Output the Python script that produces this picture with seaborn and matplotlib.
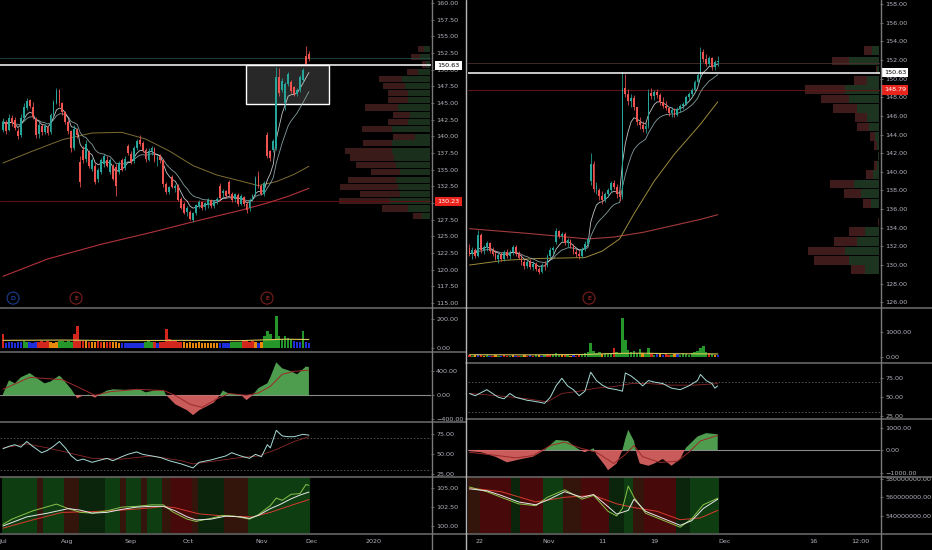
import numpy as np
import pandas as pd
import matplotlib
matplotlib.use("Agg")
import matplotlib.pyplot as plt
import matplotlib.transforms as mtransforms
from matplotlib.lines import Line2D
from matplotlib.patches import Rectangle
from matplotlib.ticker import FuncFormatter
import seaborn as sns

# ======================= DATA =======================
# ---- left chart: daily candles Jul 1 - Nov 29 (bar index 0..103) ----
L_open = [141.0,142.2,141.0,142.8,142.5,140.8,140.2,142.8,144.3,145.4,
          144.4,142.6,140.4,141.5,140.6,141.4,140.6,143.3,145.0,146.9,
          145.0,143.6,142.1,140.8,138.3,140.9,136.2,138.0,136.6,137.6,
          135.1,135.6,133.6,134.6,135.8,136.5,134.6,135.5,135.4,134.6,
          136.4,135.2,138.5,137.4,136.3,138.2,139.5,139.0,137.9,136.5,
          137.8,138.2,136.5,137.0,136.4,132.9,131.6,133.9,132.3,132.6,
          130.6,129.8,128.6,128.6,127.5,128.5,129.6,130.1,129.4,129.7,
          130.4,129.5,130.3,132.6,131.5,131.8,133.1,131.4,130.6,131.2,
          129.9,130.9,129.9,129.2,130.5,131.3,134.0,132.6,131.4,140.2,
          137.8,137.9,138.3,148.9,147.0,145.0,147.9,148.2,147.4,146.4,
          146.9,148.4,152.0,152.4]
L_high = [142.8,142.5,143.4,143.2,142.9,141.2,143.3,145.0,145.8,145.6,
          145.2,142.9,142.2,141.8,141.9,141.6,143.5,145.5,147.3,147.1,
          145.2,143.8,142.4,141.0,141.7,141.3,137.0,138.6,139.4,138.0,
          136.8,136.0,135.3,136.8,137.3,137.0,136.7,135.8,135.8,136.3,
          136.8,137.0,138.9,137.8,138.5,139.6,140.2,139.3,138.3,138.2,
          138.6,138.4,137.2,137.3,136.6,133.2,132.6,134.2,132.9,132.9,
          130.9,130.1,129.6,128.9,128.7,129.9,130.4,130.3,130.2,130.8,
          130.6,130.5,130.9,133.0,132.1,132.0,133.5,131.7,131.5,131.5,
          131.3,131.1,130.2,130.7,131.4,134.0,134.8,132.9,133.3,140.6,
          138.0,139.6,150.4,150.3,148.8,148.2,149.7,148.5,147.6,147.3,
          149.2,150.2,153.6,152.8]
L_low = [140.6,140.4,140.8,141.6,141.0,139.6,139.9,142.4,144.0,144.2,
         142.6,139.8,139.7,140.2,140.3,140.2,140.4,143.1,144.8,144.6,
         143.2,141.8,140.4,137.6,138.0,139.8,132.4,136.0,136.2,135.2,
         134.8,132.8,133.2,134.3,135.4,135.4,134.3,133.4,131.0,134.3,
         134.8,135.0,137.2,135.9,136.0,138.0,138.6,137.6,136.2,136.3,
         137.2,136.2,135.5,136.0,132.4,131.3,131.4,132.2,131.6,130.3,
         129.1,128.3,128.0,127.4,127.2,128.2,129.2,129.0,128.9,129.3,
         129.2,129.2,129.8,130.5,130.9,130.8,131.1,130.2,130.1,129.6,
         129.7,129.5,128.5,128.8,130.3,131.1,132.3,131.2,131.0,136.7,
         136.3,137.6,138.0,146.1,146.6,143.9,147.6,146.5,146.0,146.1,
         146.6,148.2,150.5,151.3]
L_close = [142.2,140.8,142.8,142.0,141.3,140.0,142.7,144.4,145.3,144.5,
           142.9,140.2,141.7,140.6,141.5,140.5,143.2,145.1,146.8,145.0,
           143.6,142.1,140.8,138.2,141.1,140.2,133.2,136.5,138.8,135.6,
           136.4,133.2,134.9,136.4,137.0,135.6,136.4,133.6,132.6,136.0,
           135.0,136.6,137.5,136.2,138.2,139.3,138.9,137.9,136.6,137.8,
           138.3,136.5,136.9,136.4,132.8,131.6,132.4,132.4,132.6,130.5,
           129.3,128.5,129.3,127.6,128.5,129.7,130.1,129.3,130.0,130.5,
           129.6,130.3,130.6,130.8,131.8,131.1,131.3,130.5,131.3,129.8,
           131.0,129.8,128.9,130.5,131.2,133.8,132.6,131.4,133.0,137.0,
           136.8,139.3,148.9,146.5,148.3,147.8,149.3,146.8,146.4,147.0,
           148.9,149.9,150.8,151.6]
L_vol = [100,35,40,38,36,42,38,45,40,38,36,40,42,45,38,44,40,36,42,48,
         44,40,46,42,100,150,55,50,45,40,42,38,44,40,42,38,40,42,38,36,
         32,34,30,33,35,31,34,32,40,44,42,38,36,40,42,130,60,48,44,42,
         40,38,36,40,34,36,38,35,33,36,34,32,35,34,36,32,35,40,38,42,
         40,44,46,42,45,40,36,38,80,115,95,60,225,80,65,82,70,60,45,42,
         40,120,40,36]
L_volcol = ("r" "bbbbbb" "gg" "bbb" "rrrr" "ooo" "ggggg" "rrrr" "oroor" "rorr"
            "ooo" "bbbbbbbb" "ggg" "rb" "rrrrrrrr" "oooooooooooo" "bbbb" "gggg"
            "rrrr" "obo" "gggggggggg" "bbb" "g" "bb")
L_vma_bar = [0, 20, 40, 60, 80, 95, 103]
L_vma = [52, 54, 50, 52, 50, 60, 58]
# moving averages (sparse readings)
L_ma50_bar = [0, 10, 20, 30, 40, 48, 56, 64, 72, 80, 86, 92, 98, 103]
L_ma50 = [136.0,137.8,139.5,140.5,140.6,139.6,137.8,135.6,134.2,133.3,132.6,133.2,134.3,135.5]
L_ma200_bar = [0, 15, 33, 50, 66, 80, 89, 96, 103]
L_ma200 = [119.0,121.6,123.8,125.6,127.4,128.9,130.0,131.0,132.2]
# volume profile
L_prof_price = [153.05,151.85,150.75,149.7,148.6,147.55,146.45,145.45,144.3,143.2,142.15,141.1,
                139.95,138.95,137.85,136.8,135.7,134.6,133.45,132.45,131.35,130.25,129.2,128.1]
L_prof_total = [11.7,19,8,22.7,50.7,47.3,41.7,42.3,65,36.7,41.7,68.3,
                36.7,67.3,85,80,74,59.3,81.7,90,70,91,48.3,16.7]
L_prof_green = [6,10,4,12,28,25,22,22,32,20,22,38,15,38,38,36,34,30,34,32,30,40,22,8]
# oscillator
L_osc_bar = [0,2,4,6,9,11,14,16,19,20,23,25,27,29,31,32,35,37,42,46,
             48,51,54,55,58,62,64,66,71,73,74,76,80,82,84,86,89,90,92,94,97,99,102,103]
L_osc = [20,250,200,300,370,300,200,230,330,280,100,-50,0,10,-40,0,80,100,90,100,
         50,80,90,0,-150,-250,-330,-250,-120,0,80,30,10,-80,0,120,200,300,550,450,400,350,480,470]
L_oscsig_bar = [0,9,20,26,31,36,45,54,58,63,67,72,76,82,86,90,94,98,103]
L_oscsig = [100,300,260,120,0,60,100,80,0,-150,-200,-60,30,0,40,150,350,400,420]
# RSI
L_rsi_bar = [0,2,4,6,8,10,13,15,17,19,21,23,25,27,30,33,35,37,40,42,
             45,47,50,53,56,60,64,66,70,73,75,77,80,83,85,87,89,90,92,94,96,98,101,103]
L_rsi = [57,60,62,59,66,60,52,55,60,66,58,48,42,44,40,43,45,42,47,50,
         53,50,48,46,42,38,33,40,43,46,48,52,48,45,50,47,62,58,80,73,72,72,75,74]
L_rsisig_bar = [0,8,15,22,30,40,50,60,64,72,80,86,92,98,103]
L_rsisig = [58,63,58,52,45,44,48,42,38,42,46,48,56,66,72]
# bottom panel
L_bw_bar = [0,8,15,22,26,30,35,40,45,50,54,58,62,65,70,75,80,83,86,90,93,97,100,103]
L_bw = [100.0,101.2,101.7,102.3,102.1,101.7,101.8,102.2,102.5,102.6,102.6,102.0,101.2,100.8,
        100.9,101.3,101.2,101.0,101.4,102.3,102.8,103.6,104.1,104.5]
L_bg_bar = [0,3,10,18,22,26,30,35,40,45,50,54,57,62,65,70,74,78,83,86,90,92,94,97,100,102,103]
L_bg = [100.2,100.9,102.0,102.9,102.3,101.8,101.7,102.0,102.5,102.6,102.8,102.8,101.9,100.9,
        100.6,101.0,101.4,101.3,100.9,101.5,102.7,103.7,103.4,104.2,104.3,105.5,105.4]
L_br_bar = [0,10,20,30,40,50,54,58,66,75,84,90,96,103]
L_br = [99.7,100.8,101.8,101.9,102.1,102.4,102.6,102.4,101.6,101.3,101.2,101.8,102.6,103.5]
L_band = ("GGGGGGGGGGGG" "rr" "GGGGGGG" "rrrrr" "ggg" "gggggg" "GGGGG" "rr" "GGGGG" "rr"
          "GGGGG" "rrr" "RRRRRRR" "rr" "ggggggggg" "rrrrrrrr" "GGGGGGGGGGGGGGGGGGGGG")
L_xtick_pos = [0, 21.5, 43.1, 62.3, 87.2, 104.0, 124.6]
L_xtick_lab = ["Jul", "Aug", "Sep", "Oct", "Nov", "Dec", "2020"]

# ---- right chart: intraday Oct 21 - Nov 29 (3 bars per session, 29 sessions) ----
R_open = [131.8,131.2,131.6, 131.0,133.2,131.6, 131.9,132.4,131.5, 131.2,130.7,131.1,
          130.6,131.4,131.0, 131.4,131.9,131.2, 130.8,130.3,129.9, 130.3,129.8,130.1,
          129.6,129.3,130.0, 129.9,131.0,131.6, 132.5,133.6,133.1, 133.3,132.4,132.7,
          132.0,131.4,131.2, 131.0,131.7,132.3, 139.0,140.8,138.2, 138.0,137.4,137.0,
          137.6,138.0,138.8, 138.4,137.6,137.3, 149.0,148.4,147.6, 147.9,146.9,145.3,
          145.0,144.6,144.9, 148.5,148.1,148.6, 148.2,147.5,147.1, 146.8,146.3,146.6,
          146.1,146.7,147.1, 147.3,148.0,148.3, 148.8,149.6,150.4, 152.9,152.1,151.6,
          152.2,151.2,151.8]
R_high = [132.3,131.9,131.8, 133.8,133.4,132.1, 132.6,132.5,131.9, 131.6,131.3,131.4,
          131.6,131.7,131.6, 132.2,132.1,131.5, 131.2,130.6,130.5, 130.6,130.4,130.3,
          129.8,130.2,130.4, 131.2,131.9,132.0, 134.0,133.8,133.5, 133.5,132.9,132.8,
          132.3,131.7,131.6, 131.9,132.6,133.0, 142.0,141.2,138.9, 138.3,137.9,137.8,
          138.3,139.0,139.1, 138.7,138.0,150.7, 150.5,148.9,148.3, 148.2,147.0,145.9,
          145.4,145.2,148.9, 149.0,148.8,148.9, 148.5,148.0,147.6, 147.0,146.9,146.8,
          146.9,147.3,147.5, 148.2,148.6,149.0, 149.8,150.6,153.4, 153.2,152.6,152.4,
          152.3,152.0,152.4]
R_low = [131.0,130.6,130.8, 130.9,131.3,131.2, 131.5,131.3,131.0, 130.5,130.2,130.4,
         130.4,130.8,130.7, 131.1,131.0,130.6, 130.0,129.6,129.7, 129.6,129.5,129.4,
         129.0,129.1,129.5, 129.8,130.8,131.2, 132.3,132.9,132.6, 132.2,131.9,131.8,
         131.2,130.9,130.7, 130.8,131.5,132.0, 138.6,137.8,137.6, 137.0,136.6,136.8,
         137.3,137.8,138.2, 137.2,136.9,137.1, 148.0,147.2,147.0, 146.6,145.0,144.6,
         144.3,144.2,144.7, 147.8,147.7,147.9, 147.2,146.8,146.6, 146.0,145.9,145.9,
         146.0,146.4,146.7, 147.2,147.7,148.1, 148.6,149.4,150.2, 151.8,151.4,151.3,
         150.9,150.9,151.4]
R_close = [131.2,131.6,131.0, 133.2,131.6,131.9, 132.4,131.5,131.2, 130.7,131.1,130.6,
           131.4,131.0,131.4, 131.9,131.2,130.8, 130.3,129.9,130.3, 129.8,130.1,129.6,
           129.3,130.0,129.9, 131.0,131.6,131.8, 133.6,133.1,133.3, 132.4,132.7,132.0,
           131.4,131.2,131.0, 131.7,132.3,132.8, 140.8,138.2,138.5, 137.4,137.0,137.6,
           138.0,138.8,138.4, 137.6,137.3,149.0, 148.4,147.6,147.9, 146.9,145.3,145.0,
           144.6,144.9,148.5, 148.1,148.6,148.2, 147.5,147.1,146.8, 146.3,146.6,146.1,
           146.7,147.1,147.3, 148.0,148.3,148.8, 149.6,150.4,152.9, 152.1,151.6,152.2,
           151.2,151.8,151.9]
R_vol = [90,60,70, 120,70,60, 80,50,60, 70,60,50, 80,50,60, 70,60,50, 60,80,50,
         70,60,80, 90,60,70, 120,80,90, 150,90,80, 100,70,60, 80,60,70, 110,150,200,
         570,250,180, 200,130,150, 150,180,350, 200,150,1550, 680,300,200, 250,150,320,
         180,120,380, 150,100,120, 120,90,110, 100,90,130, 110,80,150, 120,90,160,
         200,250,350, 430,200,150, 120,90,100]
R_volcol = "".join(["rgo","bro","gbr","ogb","rrg","obr","gor","brg","obg","rrg","ggo","rgo",
                    "brr","ggg","ggg","gog","ggr","ggg","ggg","ggg","ogg","rgb","obr","rgo",
                    "bgg","ggg","ggg","ggr","gob"])
R_vma_bar = [0, 20, 40, 50, 60, 70, 86]
R_vma = [100, 95, 110, 150, 160, 140, 130]
R_ma50_bar = [0, 12, 23, 40, 46, 52, 57, 64, 71, 80, 86]
R_ma50 = [130.0,130.5,130.7,130.8,131.5,132.8,135.5,139.0,141.9,145.1,147.5]
R_ma200_bar = [0, 20, 41, 50, 60, 70, 80, 86]
R_ma200 = [133.9,133.4,132.8,133.0,133.5,134.2,134.9,135.4]
R_prof_price = [153.0,151.9,150.9,149.8,148.8,147.8,146.8,145.8,144.8,143.8,142.8,141.7,
                140.7,139.7,138.7,137.7,136.6,135.6,134.6,133.6,132.5,131.5,130.5,129.5]
R_prof_total = [14.7,47,3,24.7,73.7,58,46.3,23.7,22.3,9,4.7,1.3,
                4.7,13,49,34.7,16.3,0,1,29.7,44.7,71.3,64.7,28]
R_prof_green = [7,30,2,12,34,30,22,12,10,4,2,1,2,6,25,18,8,0,0.5,14,22,34,30,14]
R_rsi_bar = [0,2,4,6,8,10,12,14,16,18,20,22,25,26,28,30,32,34,36,38,
             40,42,44,46,48,51,53,54,56,58,60,62,64,67,70,73,76,79,80,82,84,85,86]
R_rsi = [55,52,56,60,55,50,48,55,50,48,46,45,43,42,50,65,75,65,60,52,
         58,83,72,66,62,60,58,82,78,72,65,72,70,68,62,60,65,72,80,72,68,62,65]
R_rsisig_bar = [0,10,20,27,32,38,44,50,56,62,70,78,86]
R_rsisig = [55,52,48,44,55,58,62,64,68,68,66,66,68]
R_macd_bar = [0,4,9,13,18,22,26,30,34,37,39,40,43,44,47,48,51,53,54,55,
              57,58,59,62,64,67,70,73,75,79,82,86]
R_macd = [-50,-100,-300,-550,-400,-300,0,450,400,100,-50,-100,80,-200,-700,-900,-600,0,500,900,
          400,-200,-600,-700,-600,-400,-700,-400,100,600,750,700]
R_macdsig_bar = [0,10,16,22,28,33,38,44,50,54,57,60,66,72,76,80,86]
R_macdsig = [-100,-250,-350,-250,200,350,100,-100,-600,-200,200,-300,-550,-500,-100,400,650]
R_bw_bar = [0,6,11,17,23,27,33,39,43,48,51,55,57,61,65,69,73,77,81,86]
R_bw = [569,567,562,555,552,557,566,560,563,550,542,546,558,545,540,535,530,535,548,558]
R_bg_bar = [0,6,11,17,23,27,33,39,43,48,51,53,55,57,61,65,69,73,77,81,86]
R_bg = [571,566,560,553,551,560,568,558,562,545,540,548,572,560,543,538,533,528,537,552,559]
R_br_bar = [0,11,23,33,43,51,57,65,73,80,86]
R_br = [570,566,555,560,562,553,549,545,536,538,546]
R_band = ("rrrr" "RRRRRRRRRRR" "ggg" "RRRRRRRR" "GGGGGGG" "rrrrrr" "RRRRRRRRRR"
          "ggggg" "GGG" "rrrr" "RRRRRRRRRRR" "ggggg" "GGGGGGGGGG")
R_xtick_pos = [1.39, 9.35, 15.47, 21.48, 29.68, 39.84, 45.27]
R_xtick_lab = ["22", "Nov", "11", "19", "Dec", "16", "12:00"]

# ======================= STYLE =======================
sns.set_theme(style="dark")
plt.rcParams["font.family"] = ["DejaVu Sans"]
plt.rcParams["axes.unicode_minus"] = True

BG = "#000000"
TXT = "#b2b5be"
UP = "#26a69a"
DN = "#ef5350"
SEP = "#666666"
FS = 4.6
VCOL = {"b": "#1f2ed8", "r": "#d3261c", "o": "#e8890c", "g": "#24962a"}
BCOL = {"G": "#0f3d12", "g": "#0a250b", "R": "#470909", "r": "#33150b"}

W, H = 932, 550
fig = plt.figure(figsize=(W / 100, H / 100), dpi=100, facecolor=BG)


def add_ax(x0, x1, y0, y1):
    ax = fig.add_axes([x0 / W, 1 - y1 / H, (x1 - x0) / W, (y1 - y0) / H])
    ax.set_facecolor(BG)
    for s in ax.spines.values():
        s.set_visible(False)
    ax.grid(False)
    ax.yaxis.tick_right()
    ax.tick_params(axis="y", colors=TXT, labelsize=FS, length=2.2, width=0.5,
                   pad=1.5, color="#8a8a8a")
    ax.tick_params(axis="x", length=0, labelbottom=False, colors=TXT, labelsize=FS)
    return ax


def make_fmt(hidden=()):
    def f(v, p):
        if any(abs(v - h) < 1e-6 for h in hidden):
            return ""
        return f"{v:.2f}".replace("-", "\u2212")
    return FuncFormatter(f)


def sline(ax, x, y, color, lw=0.7, alpha=1.0, z=3):
    sns.lineplot(x=np.asarray(x, float), y=np.asarray(y, float), ax=ax, color=color,
                 linewidth=lw, alpha=alpha, estimator=None, sort=False, legend=False, zorder=z)


def candles(ax, x, o, h, l, c, width):
    o, h, l, c = map(lambda a: np.asarray(a, float), (o, h, l, c))
    cols = np.where(c >= o, UP, DN)
    ax.vlines(x, l, h, colors=cols, lw=0.55, zorder=3)
    body = np.where(np.abs(c - o) < 0.07, 0.07, c - o)
    ax.bar(x, body, bottom=o, width=width, color=cols, linewidth=0, zorder=4)


def fix(s, n):
    return (s + s[-1] * n)[:n]


def finish(ax, xlim, ylim, yticks, hidden=()):
    ax.set_xlim(*xlim)
    ax.set_ylim(*ylim)
    ax.set_yticks(yticks)
    ax.yaxis.set_major_formatter(make_fmt(hidden))
    ax.set_xlabel("")
    ax.set_ylabel("")


def price_tag(ax, y, text, fc, tc, xfrac):
    tr = mtransforms.blended_transform_factory(ax.transAxes, ax.transData)
    ax.text(xfrac, y, text, transform=tr, ha="center", va="center", fontsize=FS,
            color=tc, clip_on=False, zorder=10,
            bbox=dict(boxstyle="square,pad=0.35", fc=fc, ec="none"))


def marker(ax, x, letter, tcol, ecol):
    tr = mtransforms.blended_transform_factory(ax.transData, ax.transAxes)
    ax.text(x, 0.029, letter, transform=tr, ha="center", va="center", fontsize=FS,
            color=tcol, zorder=10,
            bbox=dict(boxstyle="circle,pad=0.55", fc=BG, ec=ecol, lw=0.8))


# ======================= LEFT CHART =======================
NL = len(L_close)
xL = np.arange(NL)
XLIM_L = (-1.01, 144.1)
PXL = 2.97
XL_END = 143.77

axL = add_ax(0, 431, 0, 307)
axLv = add_ax(0, 431, 308, 351)
axLo = add_ax(0, 431, 352, 421)
axLr = add_ax(0, 431, 422, 476)
axLb = add_ax(0, 431, 477, 533)

# volume profile
tot = np.asarray(L_prof_total) / PXL
grn = np.asarray(L_prof_green) / PXL
axL.barh(L_prof_price, tot, left=XL_END - tot, height=0.95, color="#3b1a1a", lw=0, zorder=1)
axL.barh(L_prof_price, grn, left=XL_END - grn, height=0.95, color="#1a301d", lw=0, zorder=1)
# horizontal levels
axL.axhline(151.7, color="#1f4a4a", lw=0.6, zorder=2)
axL.axhline(130.23, color="#5c1010", lw=0.8, zorder=2)
axL.axhline(150.63, color="white", lw=1.1, zorder=6)
axL.add_patch(Rectangle((81.8, 144.85), 28.0, 5.85, fc=(1, 1, 1, 0.16), ec="white", lw=1.0, zorder=2))
# moving averages
sline(axL, L_ma200_bar, L_ma200, "#b3323a", lw=0.8)
sline(axL, L_ma50_bar, L_ma50, "#7d6d32", lw=0.7)
cl = pd.Series(L_close, dtype=float)
sline(axL, xL, cl.ewm(span=13, adjust=False).mean(), "#93adb0", lw=0.6, alpha=0.9)
sline(axL, xL, cl.ewm(span=6, adjust=False).mean(), "#dfe6e8", lw=0.6, alpha=0.85)
candles(axL, xL, L_open, L_high, L_low, L_close, 0.62)
finish(axL, XLIM_L, (114.4, 160.45), np.arange(115, 160.1, 2.5), hidden=(130.0,))
price_tag(axL, 150.63, "150.63", "white", "black", 1.0406)
price_tag(axL, 130.23, "130.23", "#e8241c", "white", 1.0406)
marker(axL, 3.4, "D", "#2962ff", "#1d3d8a")
marker(axL, 24.6, "E", "#d03a3a", "#7a1f1f")
marker(axL, 88.9, "E", "#d03a3a", "#7a1f1f")

# volume
vc = [VCOL[k] for k in fix(L_volcol, NL)]
axLv.bar(xL, L_vol, width=0.85, color=vc, linewidth=0, zorder=2)
sline(axLv, L_vma_bar, L_vma, "#d8c85a", lw=0.8)
finish(axLv, XLIM_L, (-23, 280), [0, 200])

# oscillator
ob = np.asarray(L_osc_bar, float)
ov = np.asarray(L_osc, float)
axLo.fill_between(ob, ov, 0, where=ov >= 0, interpolate=True, color="#5cb85c", alpha=0.85, lw=0, zorder=2)
axLo.fill_between(ob, ov, 0, where=ov <= 0, interpolate=True, color="#e06666", alpha=0.9, lw=0, zorder=2)
axLo.axhline(0, color="#8a8a8a", lw=0.8, zorder=1)
sline(axLo, L_oscsig_bar, L_oscsig, "#9c2a2a", lw=0.7)
finish(axLo, XLIM_L, (-428, 722), [-400, 0, 400])

# RSI
for lv in (70, 30):
    axLr.axhline(lv, color="#5a5a5a", lw=0.6, ls=(0, (2, 2)), zorder=1)
sline(axLr, L_rsisig_bar, L_rsisig, "#8a2a2a", lw=0.6)
sline(axLr, L_rsi_bar, L_rsi, "#a8dcd8", lw=0.7)
finish(axLr, XLIM_L, (22.9, 90.4), [25, 50, 75])

# bottom panel
bc = [BCOL[k] for k in fix(L_band, NL)]
axLb.bar(xL, 10, bottom=97, width=1.0, color=bc, linewidth=0, zorder=0)
sline(axLb, L_br_bar, L_br, "#d83a2e", lw=0.7)
sline(axLb, L_bg_bar, L_bg, "#8bc34a", lw=0.7)
sline(axLb, L_bw_bar, L_bw, "#e8e8e8", lw=0.7)
finish(axLb, XLIM_L, (99.06, 106.5), [100, 102.5, 105])
axLb.set_xticks(L_xtick_pos)
axLb.set_xticklabels(L_xtick_lab)
axLb.tick_params(axis="x", labelbottom=True, pad=4.5)

# ======================= RIGHT CHART =======================
NR = len(R_close)
xR = (np.arange(NR) + 0.5) / 3.0
XLIM_R = (0, 47.57)
PXR = 8.66
XR_END = 47.46


def rpos(bars):
    return (np.asarray(bars, float) + 0.5) / 3.0


axR = add_ax(468, 880, 0, 307)
axRv = add_ax(468, 880, 308, 362)
axRr = add_ax(468, 880, 363, 419)
axRm = add_ax(468, 880, 419, 477)
axRb = add_ax(468, 880, 477, 533)

tot = np.asarray(R_prof_total) / PXR
grn = np.asarray(R_prof_green) / PXR
axR.barh(R_prof_price, tot, left=XR_END - tot, height=0.92, color="#401b1b", lw=0, zorder=1)
axR.barh(R_prof_price, grn, left=XR_END - grn, height=0.92, color="#1d3420", lw=0, zorder=1)
axR.axhline(151.7, color="#4a3030", lw=0.6, zorder=2)
axR.axhline(148.79, color="#5c1414", lw=0.8, zorder=2)
axR.axhline(150.63, color="white", lw=1.1, zorder=6)
sline(axR, rpos(R_ma200_bar), R_ma200, "#a33a3a", lw=0.8)
sline(axR, rpos(R_ma50_bar), R_ma50, "#9c8a3a", lw=0.7)
cr = pd.Series(R_close, dtype=float)
sline(axR, xR, cr.ewm(span=14, adjust=False).mean(), "#93adb0", lw=0.6, alpha=0.9)
sline(axR, xR, cr.ewm(span=6, adjust=False).mean(), "#dfe6e8", lw=0.6, alpha=0.85)
candles(axR, xR, R_open, R_high, R_low, R_close, 0.2)
finish(axR, XLIM_R, (125.5, 158.43), np.arange(126, 158.1, 2))
price_tag(axR, 150.63, "150.63", "white", "black", 1.0364)
price_tag(axR, 148.79, "148.79", "#e8241c", "white", 1.0364)
marker(axR, 13.97, "E", "#d03a3a", "#7a1f1f")

vc = [VCOL[k] for k in fix(R_volcol, NR)]
axRv.bar(xR, R_vol, width=0.28, color=vc, linewidth=0, zorder=2)
sline(axRv, rpos(R_vma_bar), R_vma, "#d8c85a", lw=0.8)
finish(axRv, XLIM_R, (-184, 1926), [0, 1000])

for lv in (70, 30):
    axRr.axhline(lv, color="#5a5a5a", lw=0.6, ls=(0, (2, 2)), zorder=1)
sline(axRr, rpos(R_rsisig_bar), R_rsisig, "#8a2a2a", lw=0.6)
sline(axRr, rpos(R_rsi_bar), R_rsi, "#a8dcd8", lw=0.7)
finish(axRr, XLIM_R, (21.4, 95.1), [25, 50, 75])

mb = rpos(R_macd_bar)
mv = np.asarray(R_macd, float)
axRm.fill_between(mb, mv, 0, where=mv >= 0, interpolate=True, color="#5cb85c", alpha=0.85, lw=0, zorder=2)
axRm.fill_between(mb, mv, 0, where=mv <= 0, interpolate=True, color="#e06666", alpha=0.9, lw=0, zorder=2)
axRm.axhline(0, color="#8a8a8a", lw=0.8, zorder=1)
sline(axRm, rpos(R_macdsig_bar), R_macdsig, "#9c2a2a", lw=0.7)
finish(axRm, XLIM_R, (-1200, 1378), [-1000, 0, 1000])

bc = [BCOL[k] for k in fix(R_band, NR)]
axRb.bar(xR, 100e6, bottom=500e6, width=1 / 3, color=bc, linewidth=0, zorder=0)
sline(axRb, rpos(R_br_bar), np.asarray(R_br) * 1e6, "#d83a2e", lw=0.7)
sline(axRb, rpos(R_bg_bar), np.asarray(R_bg) * 1e6, "#8bc34a", lw=0.7)
sline(axRb, rpos(R_bw_bar), np.asarray(R_bw) * 1e6, "#e8e8e8", lw=0.7)
finish(axRb, XLIM_R, (521.8e6, 581.7e6), [540e6, 560e6, 580e6])
axRb.set_xticks(R_xtick_pos)
axRb.set_xticklabels(R_xtick_lab)
axRb.tick_params(axis="x", labelbottom=True, pad=4.5)

# ======================= FRAME LINES =======================
def hline(y, x0, x1, lw=1.2, c=SEP):
    fig.add_artist(Line2D([x0 / W, x1 / W], [1 - y / H, 1 - y / H], color=c, lw=lw,
                          transform=fig.transFigure, zorder=5))


def vline(x, y0, y1, lw=1.0, c=SEP):
    fig.add_artist(Line2D([x / W, x / W], [1 - y0 / H, 1 - y1 / H], color=c, lw=lw,
                          transform=fig.transFigure, zorder=5))


for y in (307.5, 351.5, 421.5, 476.5, 533.5):
    hline(y, 0, 466)
for y in (307.5, 362.5, 419.0, 477.0, 533.5):
    hline(y, 466, 932)
vline(431.5, 0, 550, c="#7a7a7a")
vline(880.5, 0, 550, c="#7a7a7a")
vline(466.0, 0, 550, lw=1.0, c="#b5b5b5")

fig.savefig("out.png", dpi=100, facecolor=BG)
